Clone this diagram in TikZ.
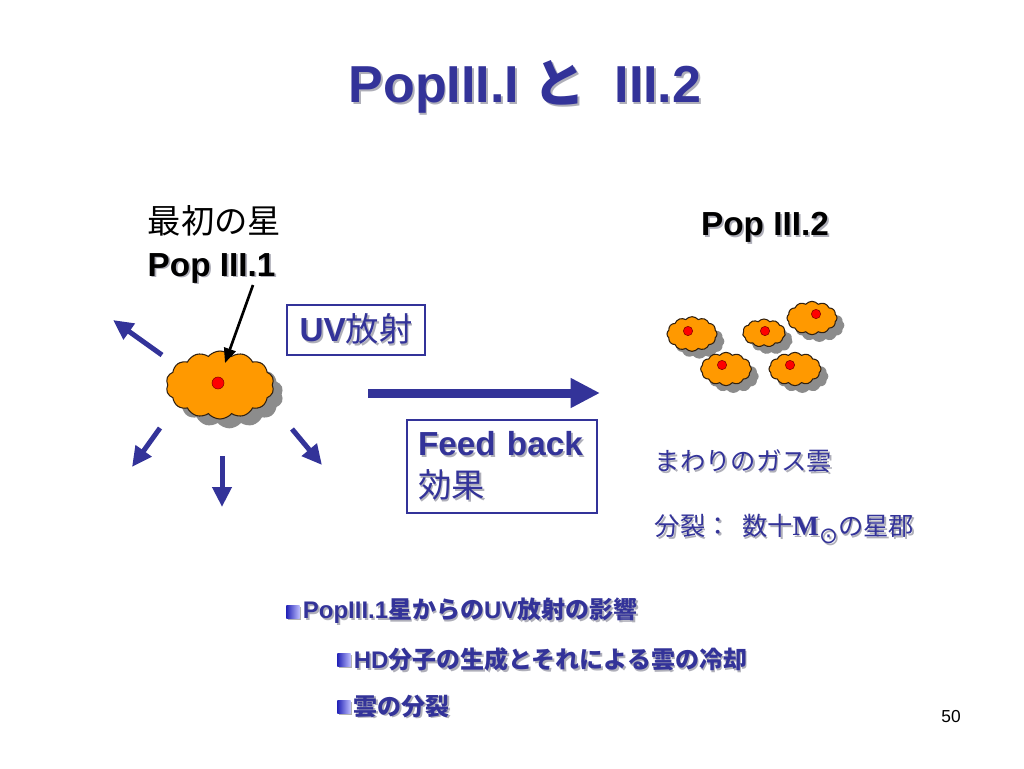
\documentclass[tikz,border=0pt]{standalone}
\usepackage{fontspec}
\setmainfont{Liberation Sans}
\newfontfamily\jp{Noto Sans CJK JP}
\newfontfamily\tms{Liberation Serif}
\newfontfamily\sym{DejaVu Sans}
\usepackage{tikz}
\usetikzlibrary{shapes.symbols,shadows,arrows.meta,positioning}
\definecolor{navy}{RGB}{51,51,153}
\definecolor{starorange}{RGB}{255,153,0}
\definecolor{shadegray}{RGB}{175,175,185}
\newcommand\shd[1]{\leavevmode\rlap{\kern1.3pt\raisebox{-1.3pt}{\color{shadegray}#1}}#1}

\begin{document}
\begin{tikzpicture}[x=0.75pt,y=-0.75pt,
  blob/.style={cloud,cloud puffs=12,cloud puff arc=100,draw=black!75!brown,fill=starorange,line width=0.8pt,
    drop shadow={shadow xshift=#1,shadow yshift=-#1,fill=black!45,opacity=1}},
  blob/.default=5.5pt,
  core/.style={circle,draw=red!50!black,fill=red,inner sep=0pt,minimum size=7pt},
  ray/.style={draw=navy,line width=3.75pt,-{Triangle[length=15pt,width=14pt]}},
  bluetext/.style={text=navy,font=\fontsize{25}{31.5}\selectfont\bfseries},
  frame/.style={draw=navy,line width=0.8pt},
  bsq/.style={rectangle,inner sep=0pt,minimum size=10pt,left color=navy!70!blue,right color=white!75!blue,
    drop shadow={shadow xshift=1pt,shadow yshift=-1pt,fill=black!30,opacity=1}},
  btext/.style={text=navy,font=\fontsize{18}{22}\selectfont\bfseries,inner sep=1pt}]
\fill[white] (0,0) rectangle (1024,768);
\useasboundingbox (0,0) rectangle (1024,768);

% title
\node[text=navy,font=\fontsize{39}{47}\selectfont\bfseries] (title) at (525,88) {\shd{PopIII.I {\jp と}\ \ III.2}};

% first star
\node[align=left,anchor=west,font=\fontsize{25}{32}\selectfont] (first) at (143,245) {{\jp 最初の星}\\\textbf{\shd{Pop III.1}}};
\node[blob=7pt,cloud puffs=14,minimum width=81pt,minimum height=51pt] (star) at (220,385) {};
\node[core,minimum size=9pt] (dot) at (218,383) {};
\coordinate (tail) at (253,285);
\coordinate (tip) at (225,363);
\draw[line width=2pt,-{Triangle[length=11pt,width=9pt]}] (tail) -- (tip);

% radiation
\coordinate (r1) at (162,355); \coordinate (e1) at (113,320);
\coordinate (r2) at (160,428); \coordinate (e2) at (132,467);
\coordinate (r3) at (222,456); \coordinate (e3) at (222,507);
\coordinate (r4) at (292,429); \coordinate (e4) at (322,465);
\draw[ray] (r1) -- (e1);
\draw[ray] (r2) -- (e2);
\draw[ray] (r3) -- (e3);
\draw[ray] (r4) -- (e4);

% boxes and feedback arrow
\node[frame,bluetext,minimum width=103.5pt,minimum height=37.5pt] (uv) at (356,330) {\shd{UV{\jp\mdseries 放射}}};
\coordinate (fb1) at (368,393);
\coordinate (fb2) at (600,393);
\draw[ray,line width=6.75pt,-{Triangle[length=22pt,width=21pt]}] (fb1) -- (fb2);
\node[frame,bluetext,minimum height=69.75pt,text width=126pt,inner sep=8.25pt,align=left] (fb) at (502,466.5) {\shd{Feed back}\\\shd{\jp\mdseries 効果}};

% second generation
\node[font=\fontsize{25}{30}\selectfont\bfseries] (pop2) at (765,228) {\shd{Pop III.2}};
\node[blob,minimum width=37.5pt,minimum height=26pt] (c1) at (692,334) {};
\node[core] (d1) at (688,331) {};
\node[blob,cloud puffs=11,minimum width=32pt,minimum height=21pt] (c2) at (764,333) {};
\node[core] (d2) at (765,331) {};
\node[blob,minimum width=37.5pt,minimum height=25pt] (c3) at (812,318) {};
\node[core] (d3) at (816,314) {};
\node[blob,minimum width=38pt,minimum height=25pt] (c4) at (726,369) {};
\node[core] (d4) at (722,365) {};
\node[blob,minimum width=39pt,minimum height=25pt] (c5) at (795,369) {};
\node[core] (d5) at (790,365) {};

\node[anchor=west,text=navy,font=\fontsize{19}{23}\selectfont\jp] (gas) at (650,462) {\shd{まわりのガス雲}};
\node[anchor=west,text=navy,font=\fontsize{19}{23}\selectfont\jp] (frag) at (650,530) {\shd{分裂：\ \ 数十{\tms\bfseries\fontsize{21}{23}\selectfont M}\raisebox{-6pt}{\sym\fontsize{17}{19}\selectfont ⊙}の星郡}};

% bullets
\node[bsq] (b1) at (293,612) {};
\node[btext,right=1pt of b1] (t1) {\shd{PopIII.1{\jp 星からの}UV{\jp 放射の影響}}};
\node[bsq] (b2) at (344,660) {};
\node[btext,right=1pt of b2] (t2) {\shd{HD{\jp 分子の生成とそれによる雲の冷却}}};
\node[bsq] (b3) at (344,707) {};
\node[btext,right=1pt of b3] (t3) {\shd{\jp 雲の分裂}};

\node[font=\fontsize{13}{15}\selectfont] (pg) at (951,717) {50};
\end{tikzpicture}
\end{document}
